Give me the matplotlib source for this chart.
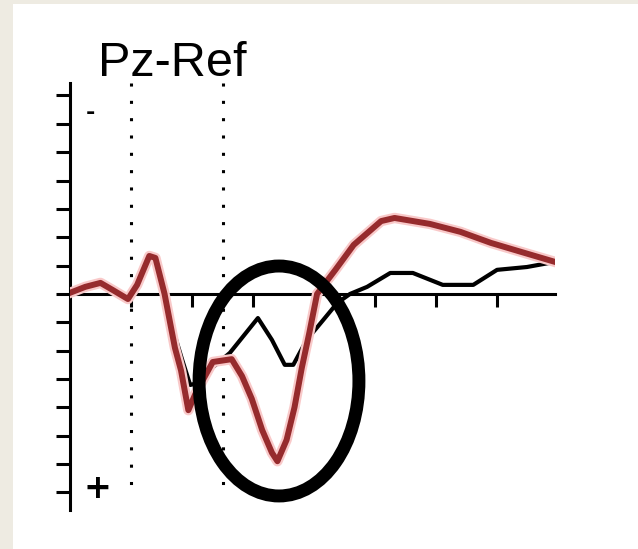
import matplotlib
matplotlib.use("Agg")
import matplotlib.pyplot as plt
import matplotlib.patheffects as pe
from matplotlib.patches import Ellipse, Rectangle

# ERP at Pz, time in ms, amplitude in uV (negative plotted up)
t_red = [-100, -75, -50, -30, -5, 10, 30, 40, 55, 72, 82, 94, 105, 120, 134, 165,
         182, 198, 215, 231, 240, 255, 268, 280, 292, 305, 335, 365, 410, 432,
         490, 540, 590, 640, 695]
v_red = [-0.04, -0.25, -0.39, -0.14, 0.18, -0.32, -1.34, -1.27, 0.0, 1.9, 2.7, 4.1,
         3.55, 2.95, 2.4, 2.3, 2.9, 3.7, 4.8, 5.6, 5.9, 5.15, 4.0, 2.6, 1.4, 0.0,
         -0.85, -1.73, -2.57, -2.68, -2.47, -2.19, -1.8, -1.48, -1.13]

t_blk = [-100, -50, -5, 31, 47, 64, 84, 97, 110, 125, 162, 208, 231, 252, 266,
         288, 315, 338, 359, 387, 425, 462, 511, 561, 600, 649, 695]
v_blk = [0.0, -0.32, 0.14, -1.27, -0.85, 0.92, 2.33, 3.21, 3.14, 2.75, 2.08, 0.85,
         1.62, 2.5, 2.5, 1.62, 0.92, 0.32, 0.0, -0.25, -0.74, -0.74, -0.32, -0.32,
         -0.85, -0.95, -1.13]

y_ticks = list(range(-7, 8))
x_ticks = [0, 100, 200, 300, 400, 500, 600]
markers = [0, 150]

W, H = 638, 549
fig = plt.figure(figsize=(W / 100, H / 100), dpi=100, facecolor="#eeebe2")
fig.add_artist(Rectangle((13 / W, 0), 1, (H - 4) / H, transform=fig.transFigure,
                         facecolor="white", edgecolor="none", zorder=0))

ax = fig.add_axes([70 / W, 1 - 510 / H, (555 - 70) / W, (510 - 83) / H])
ax.set_facecolor("none")
ax.set_xlim(-100, 695)
ax.set_ylim(7.62, -7.44)

for s in ["top", "right"]:
    ax.spines[s].set_visible(False)
ax.spines["left"].set_linewidth(2.2)
ax.spines["bottom"].set_linewidth(2.2)
ax.spines["bottom"].set_position(("data", 0))

ax.set_yticks(y_ticks)
ax.set_xticks(x_ticks)
ax.tick_params(axis="y", direction="out", length=10, width=2.2, labelleft=False)
ax.tick_params(axis="x", direction="out", length=9.4, width=2.2, labelbottom=False)

ax.vlines(markers, -7.44, 7.2, colors="black", linewidth=2.2,
          linestyles=(0, (1, 4.67)), zorder=2)

ax.plot(t_blk, v_blk, color="black", linewidth=3, zorder=3)
ax.plot(t_red, v_red, color="#962b2d", linewidth=4.3, zorder=3.5,
        path_effects=[pe.Stroke(linewidth=7.5, foreground="#f9c9c9"), pe.Normal()])

ax.add_patch(Ellipse((242.6, 3.07), 262, 8.11, fill=False, edgecolor="black",
                     linewidth=9.3, zorder=4))

fig.text(98 / W, 1 - 76 / H, "Pz-Ref", fontsize=35, va="baseline", ha="left",
         family=["Liberation Sans", "DejaVu Sans"])
fig.text(90 / W, 1 - 113 / H, "-", fontsize=16, fontweight="bold", ha="center", va="center")
fig.text(97 / W, 1 - 488 / H, "+", fontsize=24, fontweight="bold", ha="center", va="center")

fig.savefig("out.png", dpi=100)
